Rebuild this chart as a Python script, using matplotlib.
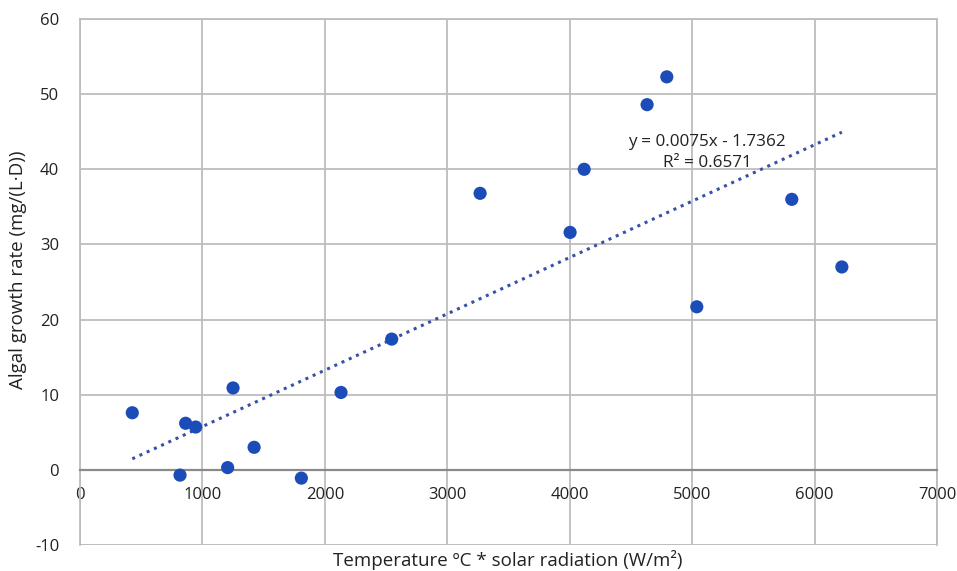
import numpy as np
import matplotlib
matplotlib.use("Agg")
import matplotlib.pyplot as plt

plt.rcParams['font.family'] = ['Open Sans', 'DejaVu Sans']
plt.rcParams['axes.unicode_minus'] = False

# data
temp_solar = [427, 817, 863, 945, 1206, 1250, 1422, 1808, 2132, 2546,
              3268, 4003, 4118, 4632, 4793, 5038, 5814, 6223]
growth_rate = [7.6, -0.7, 6.2, 5.7, 0.3, 10.9, 3.0, -1.1, 10.3, 17.4,
               36.8, 31.6, 40.0, 48.6, 52.3, 21.7, 36.0, 27.0]

# Excel linear trendline
slope = 0.0075
intercept = -1.7362
r_squared = 0.6571

x_ticks = [0, 1000, 2000, 3000, 4000, 5000, 6000, 7000]
y_ticks = [-10, 0, 10, 20, 30, 40, 50, 60]

DPI = 100
fig = plt.figure(figsize=(957 / DPI, 571 / DPI), dpi=DPI)
ax = fig.add_axes([80 / 957, 26 / 571, 857 / 957, 526 / 571])

ax.set_xlim(0, 7000)
ax.set_ylim(-10, 60)
ax.set_xticks(x_ticks)
ax.set_yticks(y_ticks)

ax.grid(True, color='#bdbdbd', linewidth=1.3)
ax.set_axisbelow(True)
for side in ['top', 'right', 'left']:
    ax.spines[side].set_color('#bdbdbd')
    ax.spines[side].set_linewidth(1.3)
# horizontal axis crosses at zero like in Excel
ax.spines['bottom'].set_position(('data', 0))
ax.spines['bottom'].set_color('#8a8a8a')
ax.spines['bottom'].set_linewidth(1.6)
ax.axhline(-10, color='#bdbdbd', linewidth=1.3, zorder=0.5)

ax.tick_params(axis='both', length=0, labelsize=12, colors='#222222')
ax.tick_params(axis='x', pad=12)
ax.tick_params(axis='y', pad=15)

x_arr = np.array(temp_solar)
xfit = np.linspace(x_arr.min(), x_arr.max(), 100)
ax.plot(xfit, slope * xfit + intercept, linestyle=(0, (1, 1.6)),
        color='#3552a8', linewidth=2.2, zorder=2)

ax.scatter(temp_solar, growth_rate, s=90, color='#1c4cb8', zorder=3,
           edgecolors='none')

ax.text(5122, 42.2, "y = 0.0075x - 1.7362\nR² = {:.4f}".format(r_squared),
        ha='center', va='center', fontsize=12.3, color='#222222',
        linespacing=1.45, zorder=4)

fig.text(18 / 957, 1 - 270 / 571, "Algal growth rate (mg/(L·D))",
         rotation=90, ha='center', va='center', fontsize=13.5, color='#222222')
fig.text(508 / 957, 1 - 560 / 571, "Temperature ºC * solar radiation (W/m²)",
         ha='center', va='center', fontsize=13.5, color='#222222')

fig.savefig("out.png", dpi=DPI, facecolor='white')
